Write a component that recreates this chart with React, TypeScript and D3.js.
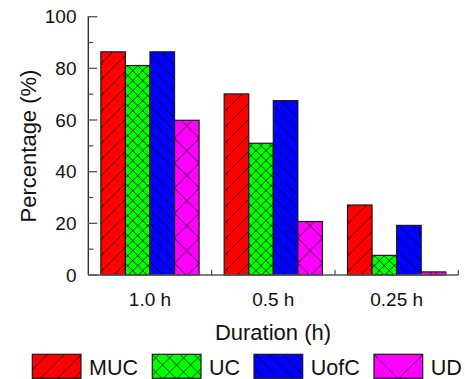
import React from "react";
import * as d3 from "d3";

const categories = ["1.0 h", "0.5 h", "0.25 h"];
const seriesNames = ["MUC", "UC", "UofC", "UD"];
const mucValues = [86.4, 70.1, 27.1];
const ucValues = [81.1, 51.0, 7.6];
const uofcValues = [86.4, 67.5, 19.2];
const udValues = [59.9, 20.7, 1.2];
const yTicks = [0, 20, 40, 60, 80, 100];
const yMinorTicks = [10, 30, 50, 70, 90];
const xTitle = "Duration (h)";
const yTitle = "Percentage (%)";

const seriesValues = [mucValues, ucValues, uofcValues, udValues];
const colors = ["#ff0000", "#00ff00", "#0000ff", "#ff00ff"];
// hatch: kind, horizontal period
const hatch = [
  { kind: "fwd", period: 16 },
  { kind: "cross", period: 10 },
  { kind: "back", period: 13 },
  { kind: "cross", period: 25 },
];

const W = 465;
const H = 379;
const FONT = "'Liberation Sans', Arial, sans-serif";

function patternDef(id: string, idx: number, ox: number, oy: number, periodScale = 1) {
  const h = hatch[idx];
  const p = (h.period * periodScale) / Math.SQRT2;
  const big = 2000;
  const lines: React.ReactNode[] = [];
  if (h.kind === "fwd" || h.kind === "back") {
    const rot = h.kind === "fwd" ? 45 : -45;
    return (
      <pattern
        key={id}
        id={id}
        patternUnits="userSpaceOnUse"
        width={p}
        height={big}
        patternTransform={`translate(${ox},${oy}) rotate(${rot})`}
      >
        <rect x={0} y={0} width={p} height={big} fill={colors[idx]} />
        <line x1={0} y1={0} x2={0} y2={big} stroke="#000" strokeWidth={1.1} />
      </pattern>
    );
  }
  return (
    <pattern
      key={id}
      id={id}
      patternUnits="userSpaceOnUse"
      width={p}
      height={p}
      patternTransform={`translate(${ox},${oy}) rotate(45)`}
    >
      <rect x={0} y={0} width={p} height={p} fill={colors[idx]} />
      <line x1={0} y1={0} x2={0} y2={p} stroke="#000" strokeWidth={1.1} />
      <line x1={0} y1={0} x2={p} y2={0} stroke="#000" strokeWidth={1.1} />
    </pattern>
  );
}

export default function App() {
  const left = 88.3;
  const right = 458.3;
  const top = 16.7;
  const bottom = 275;

  const x0 = d3.scaleBand<string>().domain(categories).range([left, right]).padding(0);
  const x1 = d3
    .scaleBand<string>()
    .domain(seriesNames)
    .range([0, x0.bandwidth()])
    .paddingInner(0)
    .paddingOuter(0.51);
  const y = d3.scaleLinear().domain([0, 100]).range([bottom, top]);

  const defs: React.ReactNode[] = [];
  const bars: React.ReactNode[] = [];
  categories.forEach((c, ci) => {
    seriesNames.forEach((s, si) => {
      const v = seriesValues[si][ci];
      const bx = (x0(c) as number) + (x1(s) as number);
      const bw = x1.bandwidth();
      const by = y(v);
      const id = `pat-${si}-${ci}`;
      defs.push(patternDef(id, si, bx + bw / 2, bottom));
      bars.push(
        <rect
          key={id}
          x={bx}
          y={by}
          width={bw}
          height={bottom - by}
          fill={`url(#${id})`}
          stroke="#1a1a1a"
          strokeWidth={1.2}
        />
      );
    });
  });

  const legendBoxX = [32.3, 152.3, 254, 374];
  const legendTop = 354.3;
  const legendBoxW = 48.7;
  const legendBoxH = 24;
  legendBoxX.forEach((lx, i) => {
    const id = `leg-${i}`;
    const scale = i === 3 ? 1.9 : i === 1 ? 1.4 : 1.05;
    defs.push(patternDef(id, i, lx + legendBoxW / 2, legendTop + legendBoxH, scale));
  });

  return (
    <svg
      width={W}
      height={H}
      style={{ position: "absolute", left: 0, top: 0, background: "#fff" }}
      fontFamily={FONT}
    >
      <defs>{defs}</defs>
      <rect x={0} y={0} width={W} height={H} fill="#fff" />
      {bars}
      {/* y axis */}
      <line x1={left} y1={top - 0.5} x2={left} y2={bottom} stroke="#222" strokeWidth={1.3} />
      {yTicks.map((t) => (
        <g key={`yt${t}`}>
          <line x1={left} x2={left + 9} y1={y(t)} y2={y(t)} stroke="#555" strokeWidth={1.3} />
          <text
            x={76.5}
            y={y(t)}
            dy="0.35em"
            textAnchor="end"
            fontSize={19}
            fill="#111"
          >
            {t}
          </text>
        </g>
      ))}
      {yMinorTicks.map((t) => (
        <line key={`ym${t}`} x1={left} x2={left + 5} y1={y(t)} y2={y(t)} stroke="#555" strokeWidth={1.3} />
      ))}
      {/* x axis */}
      <line x1={left} y1={bottom} x2={right} y2={bottom} stroke="#555" strokeWidth={1.3} />
      {categories.map((c) => (
        <g key={`xt${c}`}>
          <line
            x1={(x0(c) as number) + x0.bandwidth()}
            x2={(x0(c) as number) + x0.bandwidth()}
            y1={bottom}
            y2={bottom - 5}
            stroke="#555"
            strokeWidth={1.3}
          />
          <text
            x={(x0(c) as number) + x0.bandwidth() / 2}
            y={305.5}
            textAnchor="middle"
            fontSize={19}
            fill="#111"
          >
            {c}
          </text>
        </g>
      ))}
      <text x={273} y={339.5} textAnchor="middle" fontSize={22} fill="#111">
        {xTitle}
      </text>
      <text
        transform={`translate(35.5,146) rotate(-90)`}
        textAnchor="middle"
        fontSize={22}
        fill="#111"
      >
        {yTitle}
      </text>
      {/* legend */}
      {seriesNames.map((s, i) => (
        <g key={`lg${s}`}>
          <rect
            x={legendBoxX[i]}
            y={legendTop}
            width={legendBoxW}
            height={legendBoxH}
            fill={`url(#leg-${i})`}
            stroke="#1a1a1a"
            strokeWidth={1.2}
          />
          <text x={legendBoxX[i] + legendBoxW + 8} y={375} fontSize={21.5} fill="#111">
            {s}
          </text>
        </g>
      ))}
    </svg>
  );
}
